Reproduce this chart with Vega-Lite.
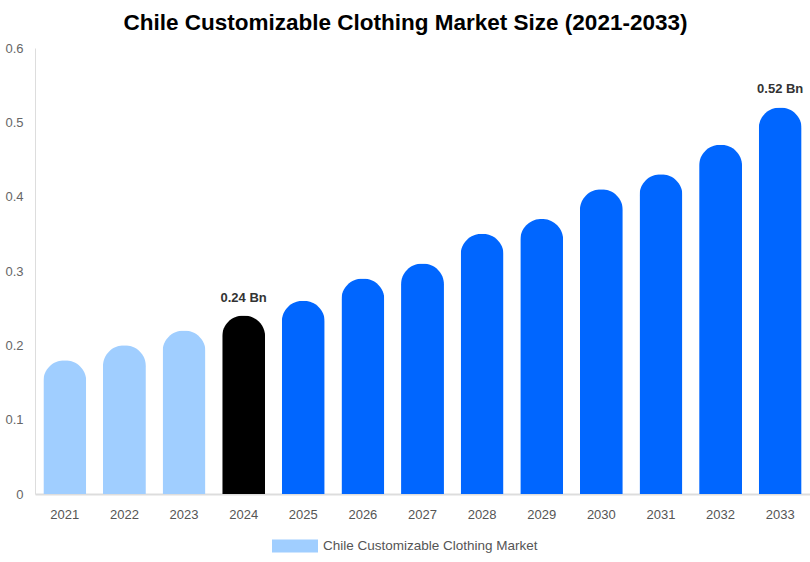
{
  "$schema": "https://vega.github.io/schema/vega-lite/v6.json",
  "width": 775,
  "height": 446,
  "autosize": {"type": "none"},
  "padding": {"left": 35, "top": 48, "right": 0, "bottom": 68},
  "background": "white",
  "title": {
    "text": "Chile Customizable Clothing Market Size (2021-2033)",
    "font": "Liberation Sans",
    "fontSize": 22.5,
    "fontWeight": "bold",
    "color": "#000000",
    "anchor": "middle",
    "dx": -17,
    "offset": 8
  },
  "data": {
    "values": [
      {"year": "2021", "value": 0.18, "phase": "history", "label": null},
      {"year": "2022", "value": 0.20, "phase": "history", "label": null},
      {"year": "2023", "value": 0.22, "phase": "history", "label": null},
      {"year": "2024", "value": 0.24, "phase": "base", "label": "0.24 Bn"},
      {"year": "2025", "value": 0.26, "phase": "forecast", "label": null},
      {"year": "2026", "value": 0.29, "phase": "forecast", "label": null},
      {"year": "2027", "value": 0.31, "phase": "forecast", "label": null},
      {"year": "2028", "value": 0.35, "phase": "forecast", "label": null},
      {"year": "2029", "value": 0.37, "phase": "forecast", "label": null},
      {"year": "2030", "value": 0.41, "phase": "forecast", "label": null},
      {"year": "2031", "value": 0.43, "phase": "forecast", "label": null},
      {"year": "2032", "value": 0.47, "phase": "forecast", "label": null},
      {"year": "2033", "value": 0.52, "phase": "forecast", "label": "0.52 Bn"}
    ]
  },
  "encoding": {
    "x": {
      "field": "year",
      "type": "ordinal",
      "title": null,
      "scale": {"paddingInner": 0.28, "paddingOuter": 0.14},
      "axis": {
        "labelAngle": 0,
        "ticks": false,
        "grid": false,
        "domainColor": "#dddddd",
        "domainWidth": 2,
        "labelColor": "#555555",
        "labelFont": "Liberation Sans",
        "labelFontSize": 13,
        "labelPadding": 14
      }
    },
    "y": {
      "field": "value",
      "type": "quantitative",
      "title": null,
      "scale": {"domain": [0, 0.6]},
      "axis": {
        "values": [0, 0.1, 0.2, 0.3, 0.4, 0.5, 0.6],
        "format": "~g",
        "ticks": false,
        "grid": false,
        "domainColor": "#dddddd",
        "labelColor": "#666666",
        "labelFont": "Liberation Sans",
        "labelFontSize": 13,
        "labelPadding": 12
      }
    }
  },
  "layer": [
    {
      "mark": {"type": "bar", "cornerRadiusTopLeft": 21, "cornerRadiusTopRight": 21},
      "encoding": {
        "color": {
          "field": "phase",
          "type": "nominal",
          "scale": {"domain": ["history", "base", "forecast"], "range": ["#a0ceff", "#000000", "#0066ff"]},
          "legend": null
        }
      }
    },
    {
      "mark": {"type": "point", "filled": true, "opacity": 0},
      "encoding": {
        "fill": {
          "datum": "Chile Customizable Clothing Market",
          "scale": {"range": ["#a0ceff"]},
          "legend": {
            "title": null,
            "orient": "none",
            "legendX": 237,
            "legendY": 475,
            "symbolType": "M-1,-0.283H1V0.283H-1Z",
            "symbolSize": 2116,
            "symbolOpacity": 1,
            "symbolStrokeWidth": 0,
            "labelColor": "#555555",
            "labelFont": "Liberation Sans",
            "labelFontSize": 13.5,
            "labelLimit": 400,
            "labelOffset": 5
          }
        }
      }
    },
    {
      "transform": [{"filter": "datum.label != null"}],
      "mark": {
        "type": "text",
        "dy": -18,
        "font": "Liberation Sans",
        "fontSize": 13,
        "fontWeight": "bold",
        "color": "#333333"
      },
      "encoding": {"text": {"field": "label"}}
    }
  ],
  "config": {"view": {"stroke": null}}
}
